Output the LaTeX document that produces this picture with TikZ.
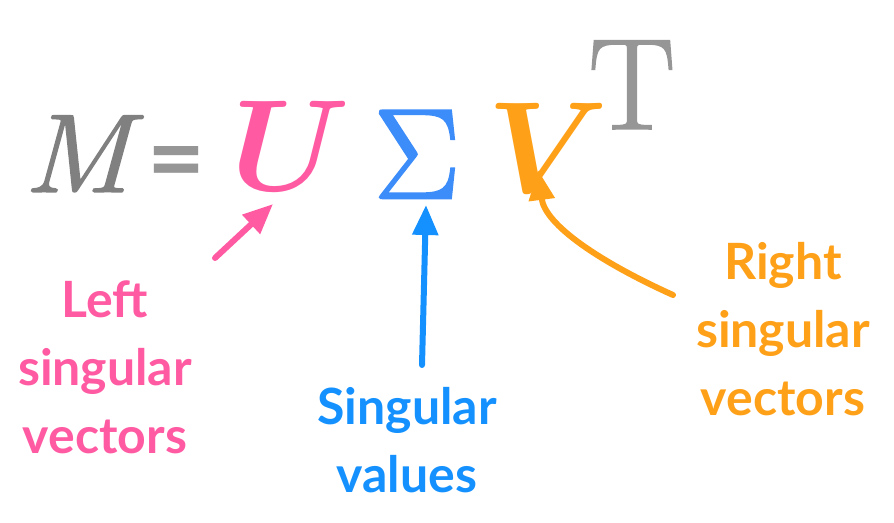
\RequirePackage{fix-cm}
\documentclass[tikz,border=0pt]{standalone}
\usepackage{amsmath,bm,graphicx}
\usepackage{fontspec}
\newfontfamily\lab{Lato}[UprightFont=* Bold]
\newfontfamily\lmheavy{Latin Modern Roman}[FakeBold=2]
\newfontfamily\lmmid{Latin Modern Roman}[FakeBold=1.2]
\usetikzlibrary{arrows.meta}
\definecolor{mgray}{RGB}{128,128,128}
\definecolor{lgray}{RGB}{150,150,150}
\definecolor{upink}{RGB}{255,90,162}
\definecolor{sblue}{RGB}{60,140,250}
\definecolor{tblue}{RGB}{20,145,255}
\definecolor{vorange}{RGB}{255,160,25}
\tikzset{
  sym/.style={inner sep=0pt, anchor=base},
  lbl/.style={inner sep=0pt, anchor=north, align=center, font=\lab\fontsize{50}{68}\selectfont},
  pointer/.style={line width=6pt, line cap=round, -{Triangle[length=30pt,width=25pt]}},
}
\begin{document}
\begin{tikzpicture}[x=1pt,y=-1pt]
\useasboundingbox (0,0) rectangle (894,522);
\node[sym, text=mgray, font=\lmmid\itshape\fontsize{112}{112}\selectfont] (M) at (77,192) {\scalebox{1.1}[1]{M}};
\node[sym, text=lgray, font=\lab\fontsize{100}{100}\selectfont] (eq) at (176,193) {=};
\node[sym, text=upink, font=\fontsize{130}{130}\selectfont] (U) at (291,190) {$\bm{U}$};
\node[sym, text=sblue, font=\lmheavy\fontsize{128}{128}\selectfont] (S) at (417,198) {Σ};
\node[sym, text=vorange, font=\fontsize{130}{130}\selectfont] (V) at (548,192) {$\bm{V}$};
\node[sym, text=lgray, font=\lmmid\fontsize{130}{130}\selectfont] (T) at (632,129) {T};
\node[lbl, text=upink] (L) at (105,281) {Left\\singular\\vectors};
\node[lbl, text=tblue] (SV) at (407,387) {Singular\\values};
\node[lbl, text=vorange] (R) at (783,242) {Right\\singular\\vectors};
\coordinate (Lt) at (215,258);
\coordinate (Lh) at (273,204);
\coordinate (St) at (422,365);
\coordinate (Sh) at (426,205);
\coordinate (Rt) at (673,295);
\coordinate (Rh) at (538,170);
\draw[pointer, color=upink] (Lt) -- (Lh);
\draw[pointer, color=tblue] (St) -- (Sh);
\draw[pointer, color=vorange] (Rt) .. controls (600,262) and (545,225) .. (Rh);
\end{tikzpicture}
\end{document}
